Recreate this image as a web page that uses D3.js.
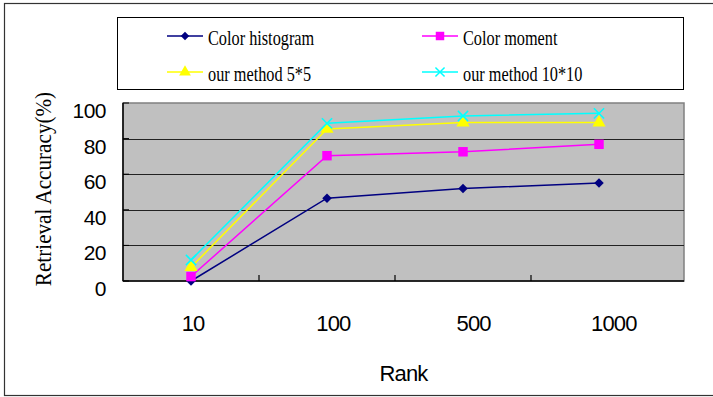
<!DOCTYPE html>
<meta charset="utf-8">
<style>
  body { margin: 0; background: #fff; }
  svg { display: block; }
</style>
<svg width="713" height="397"></svg>
<script src="https://d3js.org/d3.v7.min.js"></script>
<script>

// data
var ranks = ["10", "100", "500", "1000"];
var yTicks = [0, 20, 40, 60, 80, 100];

var seriesNames = ["Color histogram", "Color moment", "our method 5*5", "our method 10*10"];
var colorHistogram = [0, 46.5, 52, 55];
var colorMoment = [2.5, 70.4, 72.6, 76.8];
var method5x5 = [7.7, 85.4, 89, 89];
var method10x10 = [11.8, 88.6, 92.7, 94.2];

var svg = d3.select("svg"),
    width = +svg.attr("width"),
    height = +svg.attr("height");

var plot = { left: 123, top: 103, right: 684, bottom: 281 };

// points sit a little tighter than the category labels in the original
var x = d3.scaleBand().domain(ranks).range([plot.left, 667]);
var xLabel = d3.scaleBand().domain(ranks).range([plot.left, plot.right]);
var y = d3.scaleLinear().domain([0, 100]).range([plot.bottom, plot.top]);

// wide diamond like the excel marker (d3's one is too thin)
var wideDiamond = {
  draw: function (context, size) {
    var r = Math.sqrt(size / 2);
    context.moveTo(0, -r);
    context.lineTo(r, 0);
    context.lineTo(0, r);
    context.lineTo(-r, 0);
    context.closePath();
  }
};

var series = [
  { name: seriesNames[0], values: colorHistogram, color: "#000080", symbol: wideDiamond, size: 45 },
  { name: seriesNames[1], values: colorMoment, color: "#ff00ff", symbol: d3.symbolSquare, size: 90 },
  { name: seriesNames[2], values: method5x5, color: "#ffff00", symbol: d3.symbolTriangle, size: 75 },
  { name: seriesNames[3], values: method10x10, color: "#00ffff", symbol: d3.symbolX, size: 70 }
];

// outer frame
svg.append("rect")
  .attr("x", 4.5).attr("y", 3.5)
  .attr("width", 730).attr("height", 392)
  .attr("fill", "#fff")
  .attr("stroke", "#333").attr("stroke-width", 1.2);

// legend
var legend = svg.append("g");
legend.append("rect")
  .attr("x", 117.5).attr("y", 17.5)
  .attr("width", 566).attr("height", 72)
  .attr("fill", "#fff").attr("stroke", "#000");

var legendPos = [[167, 36], [422, 36], [167, 72], [422, 72]];

series.forEach(function (s, i) {
  var p = legendPos[i];
  var g = legend.append("g").attr("transform", "translate(" + p[0] + "," + p[1] + ")");
  g.append("line")
    .attr("x1", 0).attr("x2", 36)
    .attr("stroke", s.color).attr("stroke-width", 1.5);
  drawSymbol(g, s, 18, 0, 0.8);
  g.append("text")
    .attr("transform", "translate(41,9) scale(0.74,1)")
    .attr("font-family", "Liberation Serif, serif")
    .attr("font-size", 22)
    .attr("fill", "#000")
    .text(s.name);
});

// plot area
svg.append("rect")
  .attr("x", plot.left).attr("y", plot.top)
  .attr("width", plot.right - plot.left).attr("height", plot.bottom - plot.top)
  .attr("fill", "#c0c0c0")
  .attr("stroke", "#808080").attr("stroke-width", 1.5);

// gridlines
svg.append("g")
  .selectAll("line")
  .data(yTicks.filter(function (d) { return d > 0 && d < 100; }))
  .join("line")
    .attr("x1", plot.left).attr("x2", plot.right)
    .attr("y1", function (d) { return Math.round(y(d)) + 0.5; })
    .attr("y2", function (d) { return Math.round(y(d)) + 0.5; })
    .attr("stroke", "#222").attr("stroke-width", 1);

// axes lines
svg.append("line")
  .attr("x1", plot.left).attr("x2", plot.left)
  .attr("y1", plot.top).attr("y2", plot.bottom)
  .attr("stroke", "#000").attr("stroke-width", 1.5);
svg.append("line")
  .attr("x1", plot.left).attr("x2", plot.right)
  .attr("y1", plot.bottom).attr("y2", plot.bottom)
  .attr("stroke", "#000").attr("stroke-width", 1.5);

// x ticks between categories (pointing up inside)
svg.append("g")
  .selectAll("line")
  .data(ranks.slice(1))
  .join("line")
    .attr("x1", function (d) { return x(d); })
    .attr("x2", function (d) { return x(d); })
    .attr("y1", plot.bottom).attr("y2", plot.bottom - 6)
    .attr("stroke", "#000").attr("stroke-width", 1.2);

// y ticks
svg.append("g")
  .selectAll("line")
  .data(yTicks)
  .join("line")
    .attr("x1", plot.left).attr("x2", plot.left + 6)
    .attr("y1", function (d) { return y(d); })
    .attr("y2", function (d) { return y(d); })
    .attr("stroke", "#000");

// y tick labels
svg.append("g")
  .selectAll("text")
  .data(yTicks)
  .join("text")
    .attr("x", 106)
    .attr("y", function (d) { return y(d) + 15; })
    .attr("text-anchor", "end")
    .attr("font-family", "Liberation Sans, Arial, sans-serif")
    .attr("font-size", 21)
    .attr("letter-spacing", -0.5)
    .attr("fill", "#000")
    .text(function (d) { return d; });

// x tick labels
svg.append("g")
  .selectAll("text")
  .data(ranks)
  .join("text")
    .attr("x", function (d) { return xLabel(d) + xLabel.bandwidth() / 2; })
    .attr("y", 331)
    .attr("text-anchor", "middle")
    .attr("font-family", "Liberation Sans, Arial, sans-serif")
    .attr("font-size", 22)
    .attr("letter-spacing", -0.8)
    .attr("fill", "#000")
    .text(function (d) { return d; });

// axis titles
svg.append("text")
  .attr("x", (plot.left + plot.right) / 2)
  .attr("y", 381)
  .attr("text-anchor", "middle")
  .attr("font-family", "Liberation Sans, Arial, sans-serif")
  .attr("font-size", 22)
  .attr("letter-spacing", -0.8)
  .text("Rank");

svg.append("text")
  .attr("transform", "translate(51,189) rotate(-90) scale(0.92,1)")
  .attr("text-anchor", "middle")
  .attr("font-family", "Liberation Serif, serif")
  .attr("font-size", 23)
  .text("Retrieval Accuracy(%)");

// lines and markers
var line = d3.line()
  .x(function (d, i) { return x(ranks[i]) + x.bandwidth() / 2; })
  .y(function (d) { return y(d); });

series.forEach(function (s) {
  svg.append("path")
    .attr("d", line(s.values))
    .attr("fill", "none")
    .attr("stroke", s.color)
    .attr("stroke-width", 1.5);
});

series.forEach(function (s) {
  s.values.forEach(function (v, i) {
    drawSymbol(svg, s, x(ranks[i]) + x.bandwidth() / 2, y(v), 1);
  });
});

function drawSymbol(g, s, cx, cy, k) {
  var sym = g.append("path")
    .attr("transform", "translate(" + cx + "," + cy + ")")
    .attr("d", d3.symbol().type(s.symbol).size(s.size * k)());
  if (s.symbol === d3.symbolX) {
    sym.attr("fill", "none").attr("stroke", s.color).attr("stroke-width", 1.5);
  } else {
    sym.attr("fill", s.color);
  }
}

</script>
